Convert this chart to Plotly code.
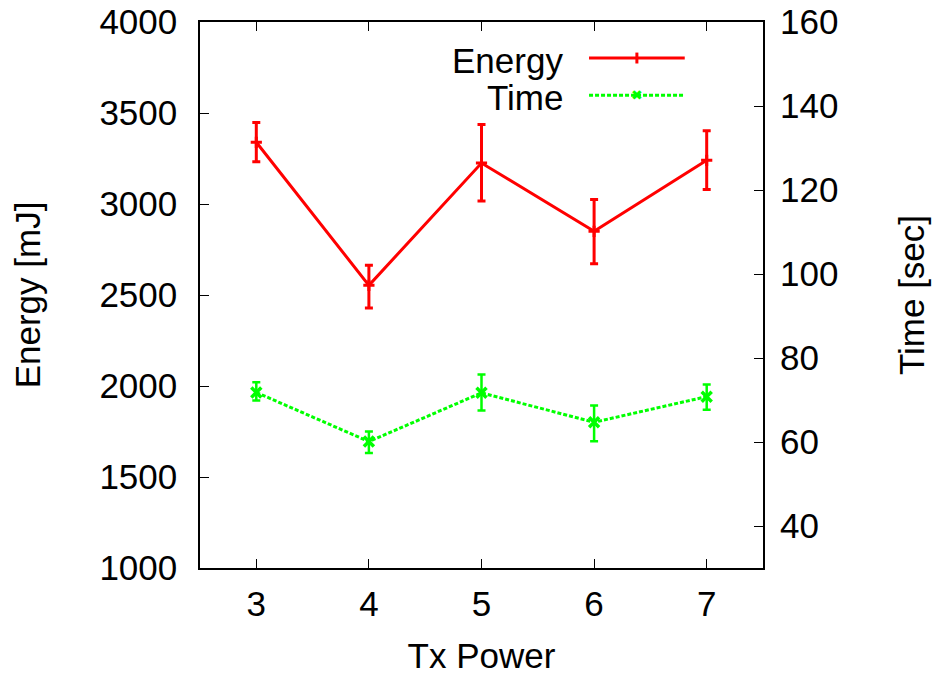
import plotly.graph_objects as go

tx_power = [3, 4, 5, 6, 7]
energy = [3339, 2553, 3225, 2850, 3240]
energy_hi = [3448, 2663, 3437, 3025, 3403]
energy_lo = [3232, 2429, 3016, 2672, 3079]
time_s = [71.8, 60.1, 71.7, 64.7, 70.8]
time_hi = [74.2, 62.5, 76.1, 68.7, 73.7]
time_lo = [69.9, 57.4, 67.5, 60.2, 67.7]

RED = "#ff0000"
GREEN = "#00ff00"
FONT = "Liberation Sans, Arial, sans-serif"
FS = 35

fig = go.Figure()
fig.add_trace(go.Scatter(
    x=tx_power, y=energy, name="Energy", mode="lines+markers",
    line=dict(color=RED, width=3),
    marker=dict(symbol="cross-thin", size=8, line=dict(color=RED, width=3)),
    error_y=dict(type="data", symmetric=False,
                 array=[h - v for h, v in zip(energy_hi, energy)],
                 arrayminus=[v - l for v, l in zip(energy, energy_lo)],
                 color=RED, thickness=3, width=4),
    yaxis="y", showlegend=False))
fig.add_trace(go.Scatter(
    x=tx_power, y=time_s, name="Time", mode="lines+markers",
    line=dict(color=GREEN, width=3, dash="4px,2px"),
    marker=dict(symbol="x-thin", size=10, line=dict(color=GREEN, width=3.5)),
    error_y=dict(type="data", symmetric=False,
                 array=[h - v for h, v in zip(time_hi, time_s)],
                 arrayminus=[v - l for v, l in zip(time_s, time_lo)],
                 color=GREEN, thickness=2.5, width=4),
    yaxis="y2", showlegend=False))

axis_common = dict(showgrid=False, zeroline=False, linecolor="black", linewidth=1.5,
                   ticks="inside", ticklen=9, tickcolor="black", tickwidth=1,
                   automargin=False,
                   tickfont=dict(family=FONT, size=FS, color="black"))

fig.update_layout(
    template="none",
    width=935, height=675,
    margin=dict(l=200, r=172, t=22, b=107, autoexpand=False),
    plot_bgcolor="white", paper_bgcolor="white",
    font=dict(family=FONT, size=FS, color="black"),
    xaxis=dict(range=[2.5, 7.5], tickvals=tx_power, showline=True, mirror="ticks",
               title=dict(text="Tx Power", font=dict(family=FONT, size=FS), standoff=24),
               ticklabelstandoff=4, **axis_common),
    yaxis=dict(range=[1000, 4000], dtick=500, showline=True, mirror=True,
               title=dict(text="Energy [mJ]", font=dict(family=FONT, size=FS), standoff=48),
               ticklabelstandoff=14, **axis_common),
    yaxis2=dict(range=[30, 160], tickvals=[40, 60, 80, 100, 120, 140, 160],
                overlaying="y", side="right", showline=False,
                title=dict(text="Time [sec]", font=dict(family=FONT, size=FS), standoff=62),
                ticklabelstandoff=16, **axis_common),
)

# gnuplot-style key: text right-aligned, sample line to the right
fig.add_annotation(x=0.649, y=0.93, xref="paper", yref="paper", text="Energy",
                   showarrow=False, xanchor="right", yanchor="middle",
                   font=dict(family=FONT, size=FS))
fig.add_annotation(x=0.649, y=0.862, xref="paper", yref="paper", text="Time",
                   showarrow=False, xanchor="right", yanchor="middle",
                   font=dict(family=FONT, size=FS))
fig.add_shape(type="line", xref="paper", yref="paper", x0=0.691, x1=0.861, y0=0.934, y1=0.934,
              line=dict(color=RED, width=3))
fig.add_shape(type="line", xref="paper", yref="paper", x0=0.776, x1=0.776, y0=0.924, y1=0.944,
              line=dict(color=RED, width=3))
fig.add_shape(type="line", xref="paper", yref="paper", x0=0.691, x1=0.861, y0=0.866, y1=0.866,
              line=dict(color=GREEN, width=3, dash="4px,2px"))
fig.add_annotation(x=0.776, y=0.866, xref="paper", yref="paper", text="✖",
                   showarrow=False, xanchor="center", yanchor="middle",
                   font=dict(family="DejaVu Sans", size=14, color=GREEN))

fig.write_html("out.html")
